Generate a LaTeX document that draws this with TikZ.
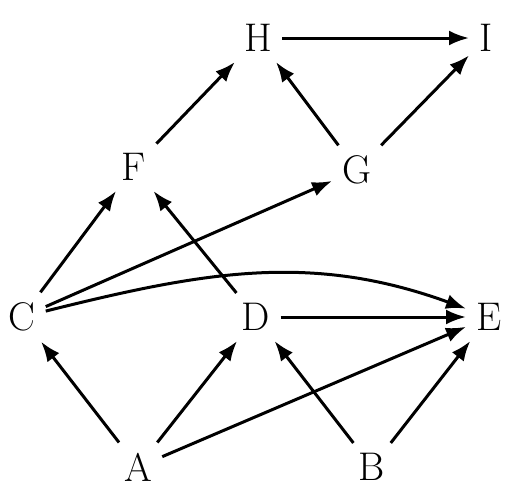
\documentclass[tikz,border=0pt]{standalone}
\usetikzlibrary{arrows.meta}
\begin{document}
\begin{tikzpicture}[x=0.5pt,y=-0.5pt,
  v/.style={inner sep=5pt,font=\fontsize{20}{22}\selectfont},
  e/.style={line width=1.5pt,-{Latex[length=10pt,width=7.5pt]}}]
\useasboundingbox (0,0) rectangle (511,494);
\node[v] (H) at (258,38) {H};
\node[v] (I) at (486,38) {I};
\node[v] (F) at (134,167) {F};
\node[v] (G) at (357,170) {G};
\node[v] (C) at (22,317) {C};
\node[v] (D) at (256,317) {D};
\node[v] (E) at (489,317) {E};
\node[v] (A) at (138,467) {A};
\node[v] (B) at (372,467) {B};
\draw[e] (H) -- (I);
\draw[e] (F) -- (H);
\draw[e] (G) -- (H);
\draw[e] (G) -- (I);
\draw[e] (C) -- (F);
\draw[e] (C) -- (G);
\draw[e] (C) to[out=14,in=160] (E);
\draw[e] (D) -- (F);
\draw[e] (D) -- (E);
\draw[e] (A) -- (C);
\draw[e] (A) -- (D);
\draw[e] (A) -- (E);
\draw[e] (B) -- (D);
\draw[e] (B) -- (E);
\end{tikzpicture}
\end{document}
